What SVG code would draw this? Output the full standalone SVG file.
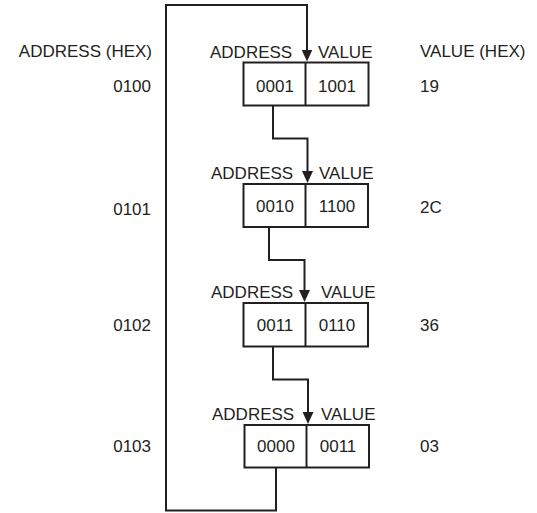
<svg xmlns="http://www.w3.org/2000/svg" width="537" height="513" viewBox="0 0 537 513">
<style>
text{font-family:"Liberation Sans",Arial,sans-serif;font-size:17px;fill:#231f20}
.box{fill:#fff;stroke:#231f20;stroke-width:2}
.c{text-anchor:middle}
.e{text-anchor:end}
.conn{fill:none;stroke:#231f20;stroke-width:2;marker-end:url(#ah)}
</style>
<defs>
<marker id="ah" markerUnits="userSpaceOnUse" markerWidth="12" markerHeight="11" refX="4" refY="5.5" orient="auto" viewBox="0 0 12 11">
<path d="M0,0 L12,5.5 L0,11 Z" fill="#231f20"/>
</marker>
</defs>
<rect width="537" height="513" fill="#fff"/>
<g id="headers">
<text class="e" x="152" y="57">ADDRESS (HEX)</text>
<text x="420" y="57">VALUE (HEX)</text>
</g>
<g id="connectors">
<path class="conn" d="M276,468 V510.5 H166 V5 H307 V53.5"/>
<path class="conn" d="M273,105 V138.5 H307.5 V175"/>
<path class="conn" d="M269,227 V260 H304.5 V294"/>
<path class="conn" d="M273,347 V379.5 H308 V416"/>
</g>
<g id="node1">
<text x="210" y="58">ADDRESS</text><text x="318" y="58">VALUE</text>
<rect class="box" x="243.5" y="62.5" width="125" height="43"/>
<line x1="305.5" y1="62.5" x2="305.5" y2="105.5" stroke="#231f20" stroke-width="2"/>
<text class="c" x="275" y="92">0001</text><text class="c" x="337" y="92">1001</text>
<text class="e" x="151" y="92">0100</text><text x="420" y="92">19</text>
</g>
<g id="node2">
<text x="211" y="179">ADDRESS</text><text x="319" y="179">VALUE</text>
<rect class="box" x="243.5" y="184" width="124.5" height="43"/>
<line x1="305.5" y1="184" x2="305.5" y2="227" stroke="#231f20" stroke-width="2"/>
<text class="c" x="275" y="212">0010</text><text class="c" x="337" y="212">1100</text>
<text class="e" x="151" y="215">0101</text><text x="420" y="213">2C</text>
</g>
<g id="node3">
<text x="211" y="298">ADDRESS</text><text x="321" y="298">VALUE</text>
<rect class="box" x="243.5" y="303" width="124.5" height="43.5"/>
<line x1="305.5" y1="303" x2="305.5" y2="346.5" stroke="#231f20" stroke-width="2"/>
<text class="c" x="275" y="331">0011</text><text class="c" x="337" y="331">0110</text>
<text class="e" x="151" y="330.5">0102</text><text x="420" y="331">36</text>
</g>
<g id="node4">
<text x="212" y="420">ADDRESS</text><text x="321" y="420">VALUE</text>
<rect class="box" x="244.5" y="425" width="124.5" height="42.5"/>
<line x1="306.5" y1="425" x2="306.5" y2="467.5" stroke="#231f20" stroke-width="2"/>
<text class="c" x="276" y="452">0000</text><text class="c" x="338" y="452">0011</text>
<text class="e" x="151" y="452">0103</text><text x="420" y="452">03</text>
</g>
</svg>
